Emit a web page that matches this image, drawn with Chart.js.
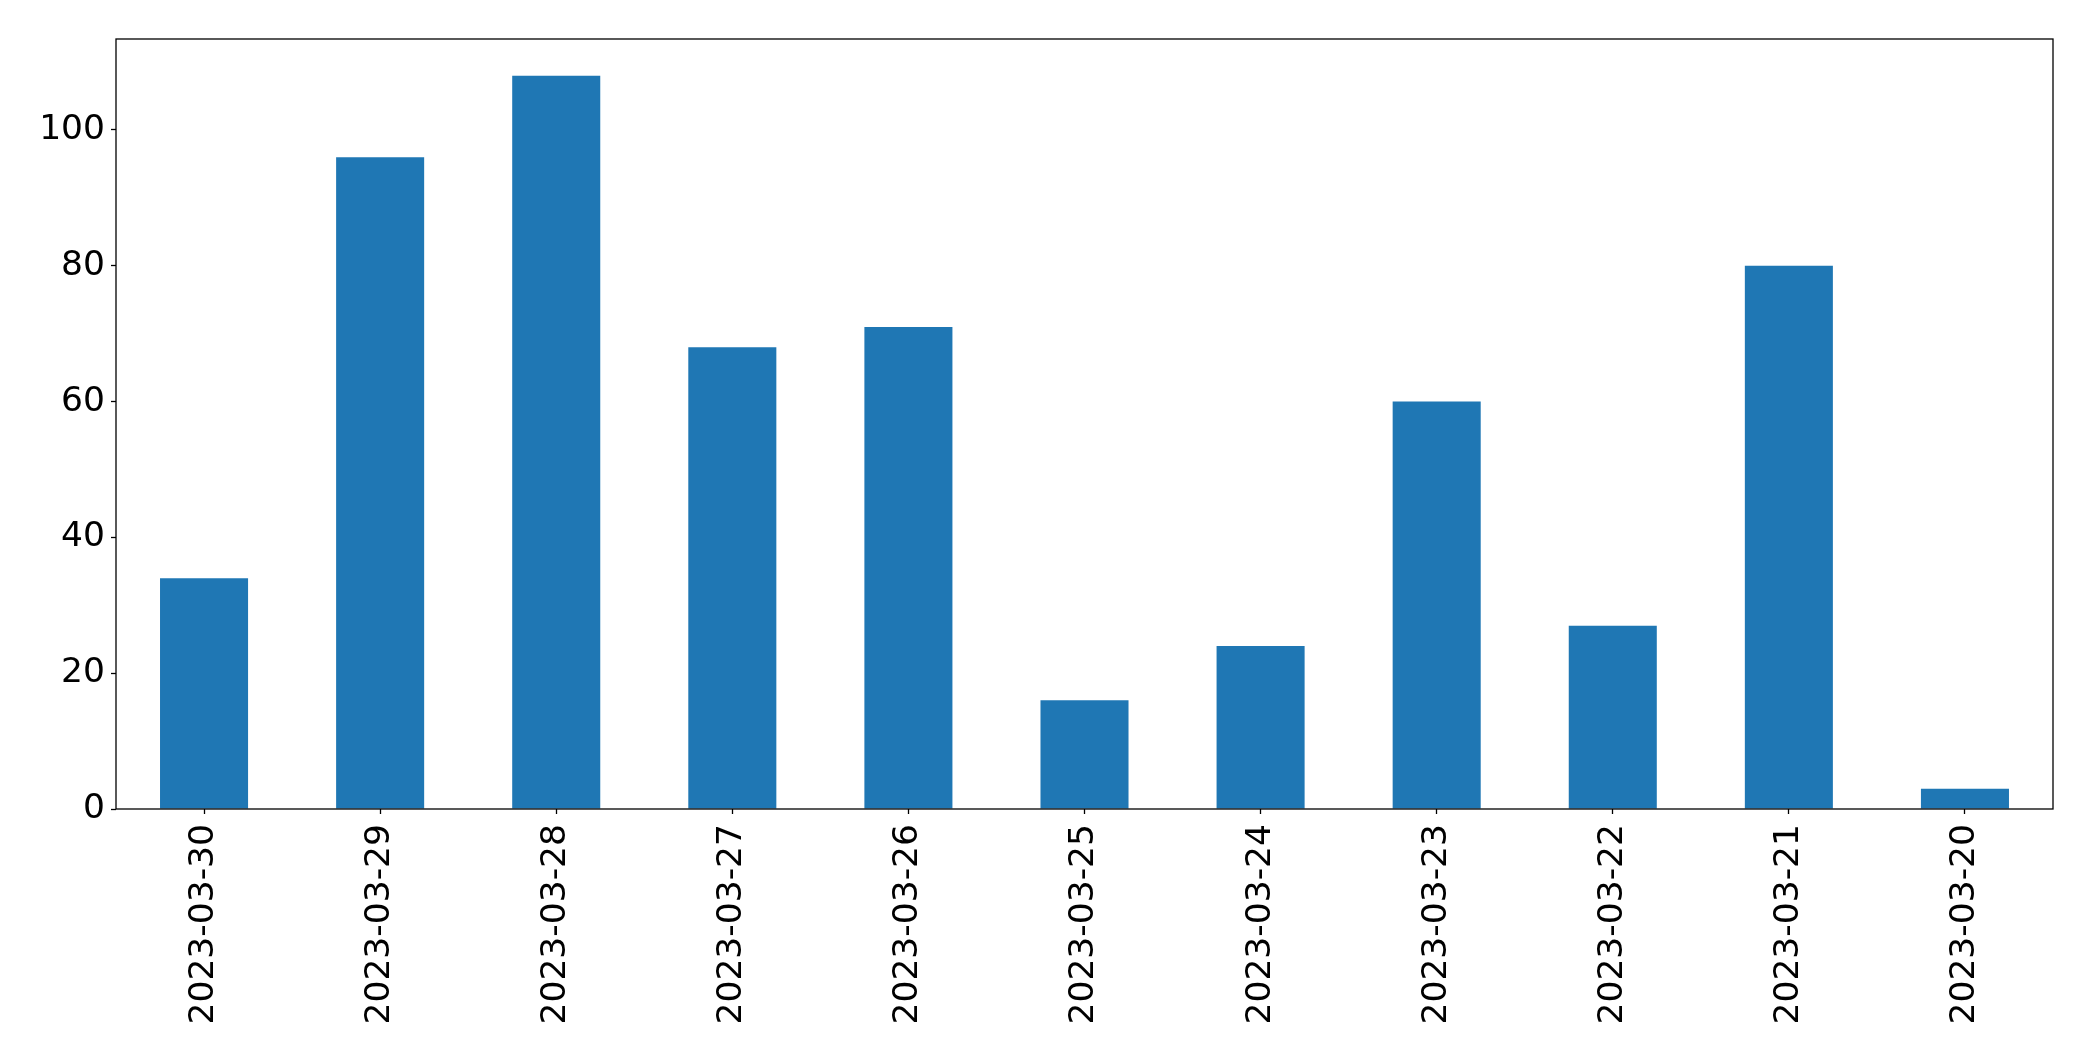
<!DOCTYPE html>
<html>
<head>
<meta charset="utf-8">
<script src="https://cdn.jsdelivr.net/npm/chart.js@4/dist/chart.umd.min.js"></script>
<style>
  html, body { margin: 0; padding: 0; background: #fff; }
  #wrap { width: 2093px; height: 1061px; }
</style>
</head>
<body>
<div id="wrap"><canvas id="c" width="2093" height="1061"></canvas></div>
<script>
const categories = ["2023-03-30","2023-03-29","2023-03-28","2023-03-27","2023-03-26","2023-03-25","2023-03-24","2023-03-23","2023-03-22","2023-03-21","2023-03-20"];
const values = [34, 96, 108, 68, 71, 16, 24, 60, 27, 80, 3];
const yTicks = [0, 20, 40, 60, 80, 100];

const FONT = { family: "DejaVu Sans", size: 34.5 };

const frame = {
  id: 'frame',
  afterDraw(chart) {
    const a = chart.chartArea, ctx = chart.ctx;
    ctx.save();
    ctx.strokeStyle = '#000';
    ctx.lineWidth = 1.3;
    ctx.strokeRect(a.left, a.top, a.right - a.left, a.bottom - a.top);
    ctx.restore();
  }
};

new Chart(document.getElementById('c'), {
  type: 'bar',
  data: {
    labels: categories,
    datasets: [{
      data: values,
      backgroundColor: '#1f77b4',
      borderWidth: 0,
      categoryPercentage: 1.0,
      barPercentage: 0.5
    }]
  },
  options: {
    responsive: false,
    animation: false,
    devicePixelRatio: 1,
    layout: { padding: { top: 39, right: 40, left: 0, bottom: 0 } },
    plugins: { legend: { display: false }, tooltip: { enabled: false } },
    scales: {
      x: {
        offset: true,
        grid: { display: true, drawOnChartArea: false, drawTicks: true, tickLength: 5, tickColor: '#000', tickWidth: 1.3, offset: false },
        border: { display: false },
        ticks: { color: '#000', font: FONT, maxRotation: 90, minRotation: 90, autoSkip: false, padding: 10 },
        afterFit(scale) { scale.height = 1061 - 809; }
      },
      y: {
        min: 0,
        max: 113.4,
        grid: { display: true, drawOnChartArea: false, drawTicks: true, tickLength: 5, tickColor: '#000', tickWidth: 1.3 },
        border: { display: false },
        afterBuildTicks(scale) { scale.ticks = yTicks.map(v => ({ value: v })); },
        ticks: { color: '#000', font: FONT, padding: 6 },
        afterFit(scale) { scale.width = 116; }
      }
    }
  },
  plugins: [frame]
});
</script>
</body>
</html>
